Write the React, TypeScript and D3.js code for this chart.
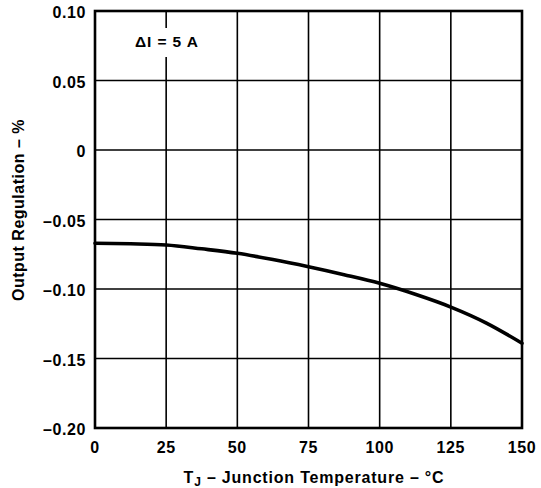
import React from "react";
import * as d3 from "d3";

const temps = [0, 12.5, 25, 37.5, 50, 62.5, 75, 87.5, 100, 112.5, 125, 137.5, 150];
const regulation = [-0.0671, -0.0675, -0.0683, -0.0711, -0.0743, -0.0788, -0.0840, -0.0897, -0.0959, -0.1038, -0.1130, -0.1245, -0.1390];
const xTicks = [0, 25, 50, 75, 100, 125, 150];
const yTicks = [0.1, 0.05, 0, -0.05, -0.1, -0.15, -0.2];
const yTickLabels = ["0.10", "0.05", "0", "\u20130.05", "\u20130.10", "\u20130.15", "\u20130.20"];

const W = 541, H = 488;
const left = 95, right = 522, top = 11, bottom = 428;

export default function App() {
  const x = d3.scaleLinear().domain([0, 150]).range([left, right]);
  const y = d3.scaleLinear().domain([-0.2, 0.1]).range([bottom, top]);
  const line = d3.line<number>()
    .x((_, i) => x(temps[i]))
    .y((d) => y(d))
    .curve(d3.curveMonotoneX);
  const font = "'Liberation Sans', Arial, Helvetica, sans-serif";
  const labelY = 42;
  return (
    <svg width={W} height={H} style={{ position: "absolute", left: 0, top: 0, background: "#fff" }}
      fontFamily={font} fontWeight="bold">
      {xTicks.slice(1, -1).map((t) => {
        const gx = x(t);
        if (t === 25) {
          return (
            <g key={t}>
              <line x1={gx} x2={gx} y1={top} y2={labelY - 14} stroke="#000" strokeWidth={1.6} />
              <line x1={gx} x2={gx} y1={labelY + 15} y2={bottom} stroke="#000" strokeWidth={1.6} />
            </g>
          );
        }
        return <line key={t} x1={gx} x2={gx} y1={top} y2={bottom} stroke="#000" strokeWidth={1.6} />;
      })}
      {yTicks.slice(1, -1).map((t) => (
        <line key={t} x1={left} x2={right} y1={y(t)} y2={y(t)} stroke="#000" strokeWidth={1.6} />
      ))}
      <rect x={left} y={top} width={right - left} height={bottom - top} fill="none" stroke="#000" strokeWidth={2.6} />
      <path d={line(regulation) || ""} fill="none" stroke="#000" strokeWidth={3.6} strokeLinecap="round" />
      {xTicks.map((t) => (
        <text key={t} x={x(t)} y={453} textAnchor="middle" fontSize={16} letterSpacing={0.6}>{t}</text>
      ))}
      {yTicks.map((t, i) => (
        <text key={t} x={86} y={y(t) + 7} textAnchor="end" fontSize={16} letterSpacing={0.6}>{yTickLabels[i]}</text>
      ))}
      <text x={135} y={labelY + 5} fontSize={15.5} letterSpacing={0.9}>{"\u0394I = 5 A"}</text>
      <text x={314} y={483} textAnchor="middle" fontSize={16} letterSpacing={0.8}>
        T<tspan fontSize={12} dy={3}>J</tspan><tspan dy={-3}>{" \u2013 Junction Temperature \u2013 \u00b0C"}</tspan>
      </text>
      <text transform={`translate(24, 210) rotate(-90)`} textAnchor="middle" fontSize={16} letterSpacing={0.5}>
        {"Output Regulation \u2013 %"}
      </text>
    </svg>
  );
}
